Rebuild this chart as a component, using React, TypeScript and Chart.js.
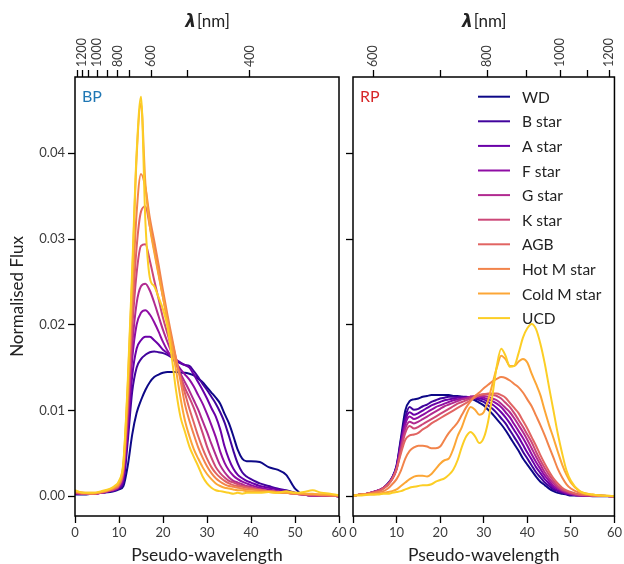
import React, { useEffect, useRef } from "react";
import { Chart, registerables } from "chart.js";
Chart.register(...registerables);

const FONT = "Lato, 'DejaVu Sans', sans-serif";

const SERIES_NAMES = ["WD", "B star", "A star", "F star", "G star", "K star", "AGB", "Hot M star", "Cold M star", "UCD"];
const SERIES_COLORS = ["#0d0887", "#41049d", "#6a00a8", "#8f0da4", "#b12a90", "#cc4778", "#e16462", "#f2844b", "#fca636", "#fcce25"];

const X_TICKS = [0, 10, 20, 30, 40, 50, 60];
const Y_TICKS = [0, 0.01, 0.02, 0.03, 0.04];

const BP_LAMBDA_POS = [0.5, 1.66, 3.11, 5.05, 7.43, 9.77, 12.43, 17.36, 25.68, 39.7];
const BP_LAMBDA_LABELS = ["", "1200", "", "1000", "", "800", "", "600", "", "400"];
const RP_LAMBDA_POS = [4.69, 20.1, 30.8, 39.9, 47.6, 53.8, 58.8];
const RP_LAMBDA_LABELS = ["600", "", "800", "", "1000", "", "1200"];

// BP pseudo-wavelength grid
const BP_U = [0, 2, 4, 6, 8,
  9, 10, 11, 12, 13, 14, 15, 16, 17, 18,
  19, 20, 21, 22, 23, 24, 25, 26, 27, 28,
  29, 30, 31, 32, 33, 34, 35, 36, 37, 38,
  39, 40,
  42, 44, 46, 48, 50, 52, 54, 56, 58, 60];

const BP_WD = [.0002, .0002, .0003, .0004, .0005,
  .0006, .0008, .0012, .0036, .0072, .0097, .0112, .0124, .0133, .0139,
  .0142, .0144, .0145, .0145, .0145, .0144, .0144, .0143, .0141, .0137,
  .0133, .0127, .0121, .0115, .0108, .0096, .0085, .0070, .0054, .0044,
  .0041, .0041,
  .0040, .0034, .0031, .0025, .0009, .0002, .0001, .0001, .0001, .0000];
const BP_B = [.0003, .0003, .0003, .0004, .0006,
  .0007, .0009, .0016, .0065, .0122, .0150, .0160, .0165, .0168, .0169,
  .0168, .0167, .0165, .0162, .0158, .0155, .0153, .0152, .0146, .0139,
  .0131, .0124, .0116, .0108, .0098, .0086, .0070, .0053, .0038, .0028,
  .0023, .0020,
  .0015, .0012, .0009, .0007, .0004, .0002, .0001, .0001, .0001, .0000];
const BP_A = [.0003, .0003, .0003, .0004, .0006,
  .0007, .0010, .0020, .0075, .0140, .0172, .0182, .0186, .0186, .0182,
  .0177, .0171, .0167, .0163, .0159, .0156, .0153, .0150, .0142, .0133,
  .0124, .0114, .0103, .0093, .0078, .0058, .0043, .0032, .0025, .0021,
  .0018, .0016,
  .0012, .0010, .0008, .0006, .0004, .0002, .0001, .0001, .0001, .0000];
const BP_F = [.0003, .0003, .0003, .0004, .0006,
  .0008, .0011, .0024, .0085, .0160, .0200, .0214, .0217, .0212, .0203,
  .0192, .0180, .0170, .0162, .0155, .0148, .0142, .0136, .0128, .0118,
  .0108, .0096, .0083, .0069, .0052, .0039, .0030, .0024, .0020, .0017,
  .0015, .0013,
  .0010, .0008, .0006, .0005, .0003, .0002, .0001, .0001, .0001, .0000];
const BP_G = [.0004, .0003, .0003, .0004, .0007,
  .0008, .0012, .0028, .0095, .0175, .0225, .0245, .0248, .0240, .0226,
  .0210, .0194, .0180, .0167, .0155, .0143, .0133, .0123, .0112, .0101,
  .0088, .0075, .0061, .0048, .0036, .0028, .0022, .0018, .0016, .0014,
  .0012, .0011,
  .0008, .0006, .0005, .0004, .0003, .0002, .0001, .0001, .0001, .0000];
const BP_K = [.0004, .0003, .0003, .0004, .0007,
  .0009, .0013, .0030, .0105, .0195, .0260, .0292, .0294, .0275, .0252,
  .0230, .0208, .0190, .0172, .0155, .0140, .0126, .0115, .0103, .0089,
  .0074, .0058, .0045, .0034, .0027, .0022, .0018, .0016, .0014, .0012,
  .0011, .0010,
  .0008, .0006, .0005, .0004, .0003, .0002, .0001, .0001, .0001, .0000];
const BP_AGB = [.0005, .0003, .0003, .0005, .0007,
  .0009, .0013, .0032, .0110, .0210, .0290, .0332, .0338, .0315, .0288,
  .0260, .0232, .0206, .0182, .0160, .0138, .0120, .0102, .0086, .0070,
  .0056, .0044, .0034, .0027, .0022, .0018, .0015, .0013, .0012, .0011,
  .0010, .0009,
  .0007, .0006, .0005, .0004, .0003, .0002, .0002, .0001, .0001, .0000];
const BP_HOTM = [.0005, .0004, .0003, .0005, .0008,
  .0010, .0014, .0034, .0120, .0230, .0330, .0376, .0360, .0325, .0298,
  .0270, .0240, .0212, .0186, .0160, .0134, .0107, .0088, .0072, .0057,
  .0045, .0035, .0027, .0021, .0017, .0014, .0012, .0011, .0010, .0009,
  .0008, .0008,
  .0007, .0006, .0005, .0004, .0003, .0003, .0002, .0002, .0001, .0001];
const BP_COLDM = [.0006, .0004, .0004, .0005, .0008,
  .0011, .0016, .0038, .0130, .0255, .0395, .0458, .0365, .0315, .0285,
  .0258, .0232, .0205, .0176, .0146, .0114, .0088, .0070, .0055, .0044,
  .0034, .0026, .0020, .0015, .0012, .0010, .0009, .0008, .0007, .0007,
  .0006, .0006,
  .0005, .0005, .0004, .0004, .0004, .0003, .0003, .0002, .0002, .0001];
const BP_UCD = [.0007, .0004, .0004, .0006, .0009,
  .0012, .0018, .0040, .0135, .0265, .0400, .0466, .0320, .0255, .0245,
  .0232, .0218, .0198, .0162, .0122, .0092, .0075, .0058, .0046, .0035,
  .0023, .0015, .0010, .0007, .0006, .0005, .0004, .0003, .0004, .0003,
  .0004, .0004,
  .0004, .0005, .0004, .0006, .0004, .0005, .0007, .0004, .0003, .0001];

// RP pseudo-wavelength grid
const RP_U = [0, 2, 4, 6, 7, 8, 9, 10, 11, 12,
  13, 14, 15, 16, 17, 18, 19, 20, 21, 22,
  23, 24, 25, 26, 27, 28, 29, 30, 31, 32,
  33, 34, 35, 36, 37, 38, 39, 40, 41, 42,
  43, 44, 45, 46, 47, 48, 49, 50, 52, 55, 60];

const RP_WD = [.0001, .0002, .0004, .0007, .0010, .0015, .0022, .0036, .0068, .0100,
  .0111, .0113, .0114, .0116, .0117, .0118, .0118, .0118, .0118, .0118,
  .0117, .0117, .0116, .0115, .0114, .0112, .0109, .0106, .0101, .0096,
  .0090, .0084, .0077, .0069, .0061, .0053, .0044, .0037, .0030, .0023,
  .0017, .0013, .0009, .0006, .0004, .0003, .0002, .0001, .0001, .0000, .0000];
const RP_B = [.0001, .0002, .0004, .0007, .0010, .0014, .0022, .0035, .0065, .0092,
  .0104, .0101, .0102, .0105, .0107, .0110, .0112, .0114, .0115, .0116,
  .0116, .0116, .0116, .0116, .0115, .0114, .0112, .0110, .0106, .0102,
  .0097, .0091, .0085, .0077, .0069, .0061, .0052, .0044, .0036, .0028,
  .0022, .0016, .0012, .0008, .0006, .0004, .0003, .0002, .0001, .0001, .0000];
const RP_A = [.0001, .0002, .0004, .0007, .0010, .0014, .0021, .0034, .0062, .0088,
  .0098, .0095, .0097, .0100, .0103, .0106, .0108, .0110, .0112, .0113,
  .0114, .0115, .0115, .0115, .0116, .0115, .0114, .0113, .0110, .0107,
  .0103, .0098, .0092, .0085, .0077, .0069, .0060, .0051, .0043, .0034,
  .0027, .0020, .0015, .0010, .0007, .0005, .0003, .0002, .0001, .0001, .0000];
const RP_F = [.0001, .0002, .0004, .0007, .0010, .0014, .0021, .0033, .0060, .0084,
  .0093, .0090, .0092, .0095, .0098, .0101, .0104, .0106, .0108, .0110,
  .0112, .0113, .0114, .0115, .0116, .0116, .0116, .0115, .0113, .0111,
  .0108, .0104, .0098, .0092, .0084, .0076, .0068, .0059, .0049, .0040,
  .0032, .0024, .0018, .0012, .0009, .0006, .0004, .0003, .0001, .0001, .0000];
const RP_G = [.0001, .0002, .0004, .0007, .0010, .0014, .0021, .0032, .0057, .0079,
  .0087, .0085, .0087, .0090, .0093, .0096, .0099, .0102, .0105, .0107,
  .0109, .0111, .0113, .0114, .0116, .0117, .0117, .0117, .0116, .0114,
  .0112, .0108, .0103, .0098, .0091, .0083, .0075, .0066, .0056, .0046,
  .0037, .0028, .0021, .0015, .0010, .0007, .0005, .0003, .0001, .0001, .0000];
const RP_K = [.0001, .0002, .0004, .0007, .0010, .0014, .0020, .0031, .0054, .0074,
  .0082, .0079, .0081, .0084, .0087, .0090, .0093, .0096, .0099, .0102,
  .0105, .0108, .0110, .0112, .0114, .0116, .0118, .0119, .0119, .0118,
  .0117, .0114, .0109, .0104, .0097, .0089, .0081, .0072, .0063, .0052,
  .0042, .0033, .0025, .0018, .0012, .0008, .0006, .0004, .0002, .0001, .0000];
const RP_AGB = [.0001, .0002, .0004, .0006, .0009, .0013, .0020, .0032, .0050, .0066,
  .0071, .0072, .0074, .0078, .0081, .0085, .0088, .0091, .0094, .0097,
  .0100, .0103, .0106, .0109, .0112, .0115, .0118, .0119, .0120, .0120,
  .0120, .0118, .0115, .0109, .0103, .0097, .0088, .0079, .0069, .0059,
  .0048, .0038, .0029, .0021, .0015, .0010, .0007, .0005, .0002, .0001, .0000];
const RP_HOTM = [.0001, .0002, .0003, .0005, .0006, .0009, .0014, .0020, .0030, .0044,
  .0053, .0057, .0059, .0059, .0058, .0056, .0056, .0058, .0066, .0074,
  .0080, .0086, .0095, .0104, .0111, .0117, .0121, .0126, .0130, .0134,
  .0137, .0139, .0138, .0135, .0131, .0127, .0121, .0113, .0105, .0094,
  .0083, .0071, .0058, .0045, .0032, .0022, .0014, .0009, .0004, .0001, .0000];
const RP_COLDM = [.0001, .0002, .0002, .0003, .0004, .0005, .0006, .0008, .0012, .0016,
  .0020, .0023, .0024, .0024, .0023, .0026, .0032, .0038, .0042, .0044,
  .0055, .0070, .0081, .0095, .0104, .0101, .0095, .0098, .0112, .0131,
  .0150, .0164, .0160, .0152, .0152, .0157, .0160, .0156, .0143, .0131,
  .0118, .0100, .0083, .0068, .0052, .0037, .0025, .0016, .0006, .0002, .0000];
const RP_UCD = [.0001, .0001, .0002, .0002, .0003, .0003, .0004, .0005, .0006, .0008,
  .0010, .0011, .0012, .0013, .0013, .0014, .0017, .0019, .0021, .0025,
  .0031, .0042, .0058, .0070, .0075, .0070, .0062, .0068, .0087, .0118,
  .0152, .0172, .0164, .0151, .0152, .0167, .0185, .0196, .0201, .0195,
  .0178, .0155, .0127, .0100, .0073, .0050, .0030, .0018, .0006, .0002, .0000];

const BP_SERIES = [BP_WD, BP_B, BP_A, BP_F, BP_G, BP_K, BP_AGB, BP_HOTM, BP_COLDM, BP_UCD];
const RP_SERIES = [RP_WD, RP_B, RP_A, RP_F, RP_G, RP_K, RP_AGB, RP_HOTM, RP_COLDM, RP_UCD];

const TICK_COLOR = "#3c3c3c";
const TEXT_COLOR = "#222";

function decorPlugin(panel: string, topPos: number[], topLabels: string[]) {
  return {
    id: "decor" + panel,
    afterDraw(chart: any) {
      const { ctx, chartArea: a } = chart;
      ctx.save();
      ctx.strokeStyle = "#000";
      ctx.lineWidth = 1.5;
      ctx.strokeRect(a.left, a.top, a.right - a.left, a.bottom - a.top);

      // top wavelength tick labels (rotated)
      const x2 = chart.scales.x2;
      ctx.fillStyle = TICK_COLOR;
      ctx.font = `12.5px ${FONT}`;
      topPos.forEach((p, i) => {
        if (!topLabels[i]) return;
        const px = x2.getPixelForValue(p);
        ctx.save();
        ctx.translate(px, a.top - 10);
        ctx.rotate(-Math.PI / 2);
        ctx.textAlign = "left";
        ctx.textBaseline = "middle";
        ctx.fillText(topLabels[i], 0, 0);
        ctx.restore();
      });

      ctx.font = `16px ${FONT}`;
      ctx.fillStyle = panel === "BP" ? "#1f77b4" : "#d62728";
      ctx.textAlign = "left";
      ctx.textBaseline = "alphabetic";
      ctx.fillText(panel, a.left + 7, a.top + 25);

      const cx = (a.left + a.right) / 2;
      ctx.fillStyle = TEXT_COLOR;
      ctx.font = `17.5px ${FONT}`;
      ctx.textAlign = "center";
      ctx.fillText("Pseudo-wavelength", cx, 561);

      const lamFont = "italic bold 17px 'DejaVu Sans'";
      const nmFont = `17px ${FONT}`;
      ctx.font = lamFont;
      const w1 = ctx.measureText("λ").width;
      ctx.font = nmFont;
      const w2 = ctx.measureText("[nm]").width;
      const sx = cx - (w1 + w2) / 2;
      ctx.textAlign = "left";
      ctx.font = lamFont;
      ctx.fillText("λ", sx, 27);
      ctx.font = nmFont;
      ctx.fillText("[nm]", sx + w1 + 1, 27);

      if (panel === "RP") {
        SERIES_NAMES.forEach((name, i) => {
          const y = a.top + 19.7 + i * 24.6;
          ctx.strokeStyle = SERIES_COLORS[i];
          ctx.lineWidth = 2;
          ctx.beginPath();
          ctx.moveTo(a.left + 125, y);
          ctx.lineTo(a.left + 157, y);
          ctx.stroke();
          ctx.fillStyle = TEXT_COLOR;
          ctx.font = `15.5px ${FONT}`;
          ctx.textAlign = "left";
          ctx.textBaseline = "middle";
          ctx.fillText(name, a.left + 169, y + 1);
        });
      } else {
        ctx.translate(18, (a.top + a.bottom) / 2);
        ctx.rotate(-Math.PI / 2);
        ctx.fillStyle = TEXT_COLOR;
        ctx.font = `17px ${FONT}`;
        ctx.textAlign = "center";
        ctx.textBaseline = "middle";
        ctx.fillText("Normalised Flux", 0, 0);
      }
      ctx.restore();
    },
  };
}

function makeChart(canvas: HTMLCanvasElement, panel: string) {
  const isBP = panel === "BP";
  const xs = isBP ? BP_U : RP_U;
  const series = isBP ? BP_SERIES : RP_SERIES;
  const topPos = isBP ? BP_LAMBDA_POS : RP_LAMBDA_POS;
  const topLabels = isBP ? BP_LAMBDA_LABELS : RP_LAMBDA_LABELS;
  const datasets = SERIES_NAMES.map((name, i) => ({
    label: name,
    data: xs.map((u, j) => ({ x: u, y: series[i][j] })),
    borderColor: SERIES_COLORS[i],
    borderWidth: 2,
    pointRadius: 0,
    fill: false,
    cubicInterpolationMode: "monotone",
    order: SERIES_NAMES.length - i,
    xAxisID: "x",
    yAxisID: "y",
  }));
  const tickGrid = {
    display: true,
    drawOnChartArea: false,
    drawTicks: true,
    tickLength: 7,
    tickWidth: 1.3,
    tickColor: "#000",
    color: "#000",
  };
  const tickFont = { family: FONT, size: 13 };
  return new Chart(canvas, {
    type: "line",
    data: { datasets } as any,
    plugins: [decorPlugin(panel, topPos, topLabels)],
    options: {
      responsive: false,
      animation: false,
      events: [],
      layout: { autoPadding: false, padding: { left: 0, top: 0, bottom: 0, right: isBP ? 11 : 8 } },
      plugins: { legend: { display: false }, tooltip: { enabled: false } },
      scales: {
        x: {
          type: "linear",
          position: "bottom",
          min: 0,
          max: 60,
          afterBuildTicks: (s: any) => { s.ticks = X_TICKS.map((v) => ({ value: v })); },
          afterFit: (s: any) => { s.height = 48; },
          ticks: { color: TICK_COLOR, font: tickFont, padding: 2, maxRotation: 0, minRotation: 0, autoSkip: false, callback: (v: any) => String(v) },
          grid: tickGrid,
          border: { display: false },
        },
        x2: {
          type: "linear",
          axis: "x",
          position: "top",
          min: 0,
          max: 60,
          afterBuildTicks: (s: any) => { s.ticks = topPos.map((v) => ({ value: v })); },
          afterFit: (s: any) => { s.height = 77; },
          ticks: { display: true, maxRotation: 0, minRotation: 0, autoSkip: false, callback: () => "" },
          grid: tickGrid,
          border: { display: false },
        },
        y: {
          type: "linear",
          position: "left",
          min: -0.0023,
          max: 0.0489,
          afterBuildTicks: (s: any) => { s.ticks = Y_TICKS.map((v) => ({ value: v })); },
          afterFit: (s: any) => { s.width = isBP ? 75 : 10; },
          ticks: { display: isBP, color: TICK_COLOR, font: tickFont, padding: 3, callback: (v: any) => Number(v).toFixed(2) },
          grid: tickGrid,
          border: { display: false },
        },
      },
    } as any,
  });
}

export default function App() {
  const leftRef = useRef<HTMLCanvasElement>(null);
  const rightRef = useRef<HTMLCanvasElement>(null);
  useEffect(() => {
    const c1 = makeChart(leftRef.current!, "BP");
    const c2 = makeChart(rightRef.current!, "RP");
    return () => { c1.destroy(); c2.destroy(); };
  }, []);
  return (
    <div style={{ position: "absolute", left: 0, top: 0, width: 624, height: 564, background: "#fff", overflow: "hidden" }}>
      <canvas ref={leftRef} width={350} height={564} style={{ position: "absolute", left: 0, top: 0, width: 350, height: 564 }} />
      <canvas ref={rightRef} width={281} height={564} style={{ position: "absolute", left: 343, top: 0, width: 281, height: 564 }} />
    </div>
  );
}
